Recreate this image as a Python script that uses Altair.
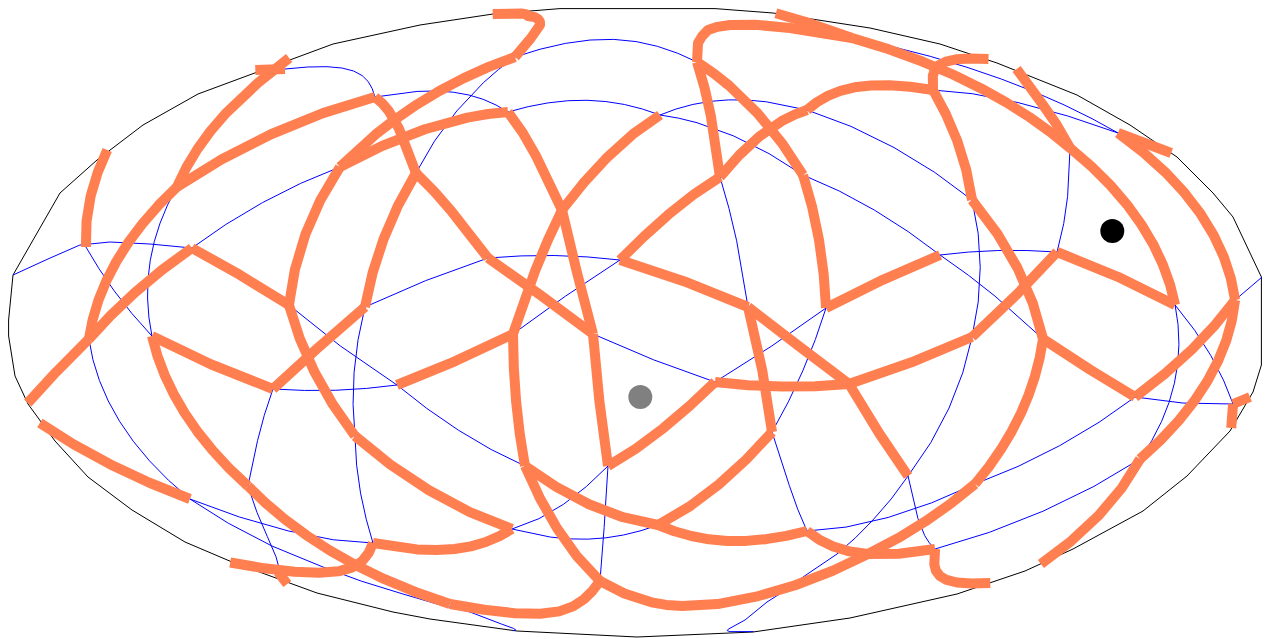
import math
import altair as alt
import pandas as pd

# Outline
frame_outline = [(8.6,320),(8.6,336),(15,376),(28,404),(55,441),(88,477),(132,510),(185,542),(232,562),(317,593),(393,612),(430,619),(517,631),(637,637),(753,632),(850,618),(957,594),(1025,571),(1073,549),(1143,511),(1187,476),(1230,431),(1253,392),(1261.4,365),(1261.4,277),(1233,217),(1213,193),(1177,157),(1130,125),(1077,95),(997,63),(940,44),(870,28),(773,13),(715,8.6),(637,8.6),(560,8.6),(493,14),(420,25),(333,44),(198,94),(143,125),(97,160),(60,193),(13,275),(8.6,320)]

nodes = dict(
 a=(86,247), b=(1118,133), c=(89,339), d=(192,248), e=(289,305), f=(375,97), g=(177,187), h=(285,69),
 i=(416,173), j=(488,258), k=(593,334), l=(365,307), m=(340,167), n=(508,112), o=(515,57), p=(512,529),
 q=(273,389), r=(152,336), s=(248,486), t=(355,436), u=(450,604), v=(600,581), w=(278,572), x=(373,543),
 y=(397,385), z=(513,334), A1=(525,466), B1=(562,210), C1=(660,115), D1=(608,466), E1=(715,382),
 F1=(849,384), G1=(972,337), H1=(1057,252), I1=(1175,305), J1=(1070,148), K1=(697,62), L1=(720,177),
 M1=(803,175), N1=(826,308), O1=(620,260), P1=(807,110), Q1=(933,90), R1=(748,307), S1=(772,432),
 T1=(908,476), U1=(658,525), V1=(807,531), W1=(935,549), X1=(868,554), Z1=(975,484), AA=(1043,339),
 AB=(972,200), AC=(1135,397), AD=(1235,300), AE=(1140,459), AF=(1233,404), AG=(190,499), AH=(940,255),
 T=(852,38),
 # points along the tight bends near the poles and the rim
 o1=(531,38), o2=(540,25), o3=(538,19), o4=(528,16),
 K2=(698,43), K3=(708,30), K4=(730,25), K5=(790,28),
 T2=(872,521), T3=(837,554), T4=(803,577), T5=(767,602), T6=(745,620),
 d2=(150,244), d3=(110,242), d4=(80,245), d5=(48,259),
 G2=(272,546), G3=(323,567), G4=(403,594), G5=(470,612),
)

# Where a line meets the rim (sign of longitude, picture height)
rim = dict(
 r1=(-1,150), r2=(1,153), r3=(-1,403), r4=(1,397), r5=(1,428), r6=(-1,423), r7=(-1,58), r8=(1,59),
 r9=(-1,70), r10=(1,69), r11=(-1,14), r12=(1,13.3), r13=(-1,562.5), r14=(1,564), r15=(-1,584), r16=(1,583),
 r17=(1,277), r18=(-1,275), r19=(1,631.6), r20=(-1,630.8),
)

orange_edges = """a-r1 b-r2 c-r3 AF-r4 AF-r5 AG-r6 c-d d-e c-g g-f g-r7 Q1-r8 h-r9 J1-r10 f-i i-j j-k i-l m-n m-e m-o
o-o1-o2-o3-o4-r11 r12-T T-J1 K1-K2-K3-K4-K5-T e-t t-p l-q q-r r-s s-u u-v AE-r14 r13-x W1-r16 r15-w x-p y-z z-A1 z-B1
B1-C1 n-B1 B1-k k-D1 D1-E1 E1-F1 F1-G1 G1-H1 H1-I1 I1-J1 K1-L1 K1-M1 M1-N1 L1-O1 L1-P1 P1-Q1 O1-R1 R1-S1 R1-F1 F1-T1
S1-U1 A1-U1 U1-V1 V1-X1 X1-W1 A1-v v-X1 X1-Z1 Z1-AA AA-AB AB-Q1 AA-AC AC-AD AD-b AD-AE AH-N1""".split()

blue_edges = """AD-r17 d-d2-d3-d4-d5-r18 d-m a-r g-r h-f f-n i-o o-K1 n-C1 C1-P1 C1-M1 M1-AH AH-AA P1-AB L1-R1 Q1-b b-T J1-H1
AH-H1 AB-G1 G1-T1 I1-AE I1-AF AC-AF AC-Z1 AE-W1 T1-W1 Z1-V1 T1-T2-T3-T4-T5-T6-r19 AG-G2-G3-G4-G5-r20 S1-V1 S1-N1
N1-E1 E1-k O1-z O1-j j-l l-t t-x e-y y-A1 q-y q-s s-w AG-x c-AG p-D1 p-U1 D1-v""".split()

dot_x = [1112.3, 640.3]
dot_y = [231, 397]
dot_colour = ["#000000", "#808080"]

CX, CY, RX, RY = 637.3, 321.3, 631.3, 315.7


def latitude(py):
    th = math.asin((CY - py) / RY)
    return th, math.degrees(math.asin((2 * th + math.sin(2 * th)) / math.pi))


def lonlat(name):
    if name in rim:
        sign, py = rim[name]
        return [sign * 179.9, latitude(py)[1]]
    px, py = nodes[name]
    th, lat = latitude(py)
    return [math.degrees(math.pi * (px - CX) / (RX * math.cos(th))), lat]


def geo(edges):
    feats = []
    for e in edges:
        feats.append({"type": "Feature", "properties": {},
                      "geometry": {"type": "LineString", "coordinates": [lonlat(n_) for n_ in e.split("-")]}})
    return alt.Data(values={"type": "FeatureCollection", "features": feats},
                    format=alt.DataFormat(property="features", type="json"))


X = alt.X("x:Q", axis=None, scale=alt.Scale(domain=[8, 1262], nice=False, zero=False))
Y = alt.Y("y:Q", axis=None, scale=alt.Scale(domain=[639, 8], nice=False, zero=False))

frame = alt.Chart(pd.DataFrame({"x": [p[0] for p in frame_outline], "y": [p[1] for p in frame_outline],
                                "seq": range(len(frame_outline))})).mark_line(
    color="#000000", strokeWidth=1).encode(x=X, y=Y, order="seq:Q")


def arcs(edges, colour, width):
    return alt.Chart(geo(edges)).mark_geoshape(
        filled=False, stroke=colour, strokeWidth=width, strokeJoin="round"
    ).project(type=alt.ExprRef("'mollweide'"), scale=RY / math.sqrt(2), translate=[CX - 8, CY - 8])


dots = alt.Chart(pd.DataFrame({"x": dot_x, "y": dot_y, "c": dot_colour})).mark_point(
    filled=True, size=573, opacity=1
).encode(x=X, y=Y, color=alt.Color("c:N", scale=None))

chart = alt.layer(
    frame,
    arcs(blue_edges, "#0000ff", 1),
    arcs(orange_edges, "#ff7f50", 10),
    dots,
).properties(
    width=1254, height=631, padding=0, background="white",
    autosize=alt.AutoSizeParams(type="none"),
).configure_view(stroke=None)

chart.save("out.html", embed_options={"renderer": "svg", "actions": False})
